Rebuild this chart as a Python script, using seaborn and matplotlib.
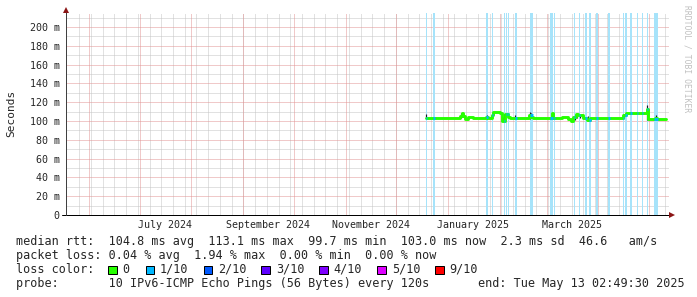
import numpy as np
import matplotlib
matplotlib.use("Agg")
import matplotlib.pyplot as plt
import seaborn as sns
from matplotlib.patches import Rectangle
from matplotlib.lines import Line2D

# ---- data: x in days since 2024-05-18 02:49:30 (360 day window) ----
med_day = [214.9, 233.4, 235.2, 236.2, 237.0, 238.2, 240.0, 243.0, 250.7, 251.9,
           254.1, 255.1, 259.1, 260.1, 261.0, 262.1, 264.1, 265.1, 276.4, 277.6,
           278.8, 290.0, 290.9, 295.9, 299.9, 301.3, 302.9, 304.5, 305.8, 307.9,
           308.8, 310.9, 312.8, 322.8, 324.8, 332.7, 334.3, 340.7, 346.7, 347.6,
           351.6, 352.7, 358.2]
med_ms = [103.5, 103.2, 105.5, 108.0, 105.8, 102.2, 104.0, 103.5, 104.2, 103.6,
          106.5, 109.8, 108.2, 100.2, 99.7, 107.2, 104.0, 103.5, 106.0, 104.2,
          103.5, 108.5, 103.5, 104.0, 102.6, 100.5, 104.0, 107.0, 106.4, 106.8,
          103.5, 101.5, 103.5, 103.0, 103.5, 106.0, 108.0, 108.3, 113.1, 102.1,
          103.0, 102.5, 102.5]

loss_day = [214.9, 219.1, 250.7, 254.1, 261.3, 262.5, 263.9, 268.1, 277.0, 289.1,
            291.3, 303.3, 306.4, 310.0, 312.5, 316.7, 323.4, 332.5, 333.9, 336.7,
            341.1, 343.9, 347.0, 350.9]
loss_len = [0.65, 1.2, 1.2, 0.65, 0.65, 0.65, 0.65, 1.2, 1.8, 1.5,
            0.65, 0.65, 0.65, 1.2, 0.65, 0.65, 1.2, 0.65, 0.9, 1.2,
            0.65, 0.65, 0.65, 2.5]

smoke_day = [215.0, 235.8, 251.3, 260.6, 261.5, 268.1, 277.0, 277.9, 289.9, 303.6,
             305.1, 306.9, 311.5, 317.0, 333.1, 346.9, 352.2]
smoke_lo = [103.0, 103.0, 102.0, 99.5, 100.0, 103.0, 102.0, 103.0, 103.0, 101.0,
            103.0, 103.0, 100.5, 102.0, 103.0, 101.0, 101.0]
smoke_hi = [107.0, 108.5, 106.0, 104.0, 107.0, 106.0, 110.0, 108.0, 109.0, 106.0,
            108.0, 107.5, 105.0, 104.5, 107.0, 117.0, 106.0]

month_day = [13.882, 43.882, 74.882, 105.882, 135.882, 166.882, 196.882, 227.882,
             258.882, 286.882, 317.882, 347.882]
label_day = [58.882, 120.882, 181.882, 242.882, 301.882]
label_txt = ["July 2024", "September 2024", "November 2024", "January 2025", "March 2025"]
first_week = 7.882

y_ticks = [0, 20, 40, 60, 80, 100, 120, 140, 160, 180, 200]
y_labels = ["0", "20 m", "40 m", "60 m", "80 m", "100 m", "120 m", "140 m",
            "160 m", "180 m", "200 m"]

line1 = "median rtt:  104.8 ms avg  113.1 ms max  99.7 ms min  103.0 ms now  2.3 ms sd  46.6   am/s"
line2 = "packet loss: 0.04 % avg  1.94 % max  0.00 % min  0.00 % now"
loss_names = ["0", "1/10", "2/10", "3/10", "4/10", "5/10", "9/10"]
loss_colors = ["#26ff00", "#00b8ff", "#0059ff", "#5e00ff", "#7e00ff", "#dd00ff", "#ff0000"]
probe_txt = "probe:       10 IPv6-ICMP Echo Pings (56 Bytes) every 120s"
end_txt = "end: Tue May 13 02:49:30 2025"

# ---- styling ----
sns.set_style("white")
plt.rcParams["font.family"] = ["DejaVu Sans Mono"]
FS = 8.5      # legend
FS_AX = 7.2   # axis tick labels
FS_UNIT = 8.0 # y unit label
W, H = 697, 297
fig = plt.figure(figsize=(W / 100, H / 100), dpi=100)
fig.patch.set_facecolor("white")
L, R, B, T = 66, 669, 215, 13
ax = fig.add_axes([L / W, 1 - B / H, (R - L) / W, (B - T) / H])
ax.set_facecolor("white")
XMAX = 360.0
YMAX = (B - T) / 0.94
ax.set_xlim(0, XMAX)
ax.set_ylim(0, YMAX)

px = 72 / 100  # one pixel in points
dot = (0, (1, 1))
gray = "#c4c4c4"
red = "#e29494"

# minor grid
for w in np.arange(first_week, XMAX, 7.0):
    ax.axvline(w, color=gray, lw=px, ls=dot, zorder=1)
for yv in range(10, int(YMAX) + 1, 20):
    ax.axhline(yv, color=gray, lw=px, ls=dot, zorder=1)
# major grid
for m in month_day:
    ax.axvline(m, color=red, lw=px, ls=dot, zorder=1.5)
for yv in y_ticks[1:]:
    ax.axhline(yv, color=red, lw=px, ls=dot, zorder=1.5)

# loss bars
ax.bar(loss_day, [YMAX] * len(loss_day), width=loss_len, align="edge",
       color="#a6e3fa", linewidth=0, zorder=2)

# smoke
ax.vlines(smoke_day, smoke_lo, smoke_hi, colors="#1a1a2a", lw=1.2 * px, zorder=3)

# median line
sns.lineplot(x=med_day, y=med_ms, ax=ax, color="#26ff00", lw=2.1,
             drawstyle="steps-post", estimator=None, sort=False, zorder=4)
md = np.array(med_day)
mm = np.array(med_ms)
for d, ln in zip(loss_day, loss_len):
    v = mm[np.searchsorted(md, d, side="right") - 1]
    ax.hlines(v, d, d + ln, colors="#00b8ff", lw=2.1, zorder=5)

# axes, ticks
for s in ax.spines.values():
    s.set_visible(False)
ax.set_yticks(y_ticks)
ax.set_yticklabels(y_labels, fontsize=FS_AX)
ax.set_xticks(label_day)
ax.set_xticklabels(label_txt, fontsize=FS_AX)
ax.tick_params(axis="y", length=0, pad=4.5)
ax.tick_params(axis="x", length=0, pad=3.5)
ax.set_xlabel("")
ax.set_ylabel("")

axw = R - L
axh = B - T
ax.add_line(Line2D([(62 - L) / axw, 1.0], [0, 0], transform=ax.transAxes,
                   color="black", lw=1.0 * px, clip_on=False, zorder=6))
ax.add_line(Line2D([0, 0], [0, (B - 10) / axh], transform=ax.transAxes,
                   color="#404040", lw=1.0 * px, clip_on=False, zorder=6))
ax.plot([(672 - L) / axw], [0], marker=">", ms=4.5, color="#8b1515",
        transform=ax.transAxes, clip_on=False, zorder=7, mew=0)
ax.plot([0], [(B - 10) / axh], marker="^", ms=4.5, color="#8b1515",
        transform=ax.transAxes, clip_on=False, zorder=7, mew=0)

# labels
fig.text(11 / W, 1 - 113 / H, "Seconds", rotation=90, ha="center", va="center", fontsize=FS_UNIT)
fig.text(687 / W, 1 - 59 / H, "RRDTOOL / TOBI OETIKER", rotation=270, ha="center",
         va="center", fontsize=5.8, color="#c0c0c0")

def ft(xp, yp, s, **kw):
    fig.text(xp / W, 1 - yp / H, s, ha="left", va="center", fontsize=FS, **kw)

ft(16, 241.5, line1)
ft(16, 255.5, line2)
ft(16, 269.5, "loss color:")
box_x = [108, 145.5, 203.5, 261.3, 319.3, 377.2, 435.1]
for i, (nm, col) in enumerate(zip(loss_names, loss_colors)):
    bx = box_x[i]
    fig.patches.append(Rectangle((bx / W, 1 - 274 / H), 8.5 / W, 8.5 / H,
                                 transform=fig.transFigure, facecolor=col,
                                 edgecolor="black", lw=px, figure=fig))
    ft(bx + 14.5, 269.5, nm)
ft(16, 283.5, probe_txt)
ft(478, 283.5, end_txt)

fig.savefig("out.png", dpi=100, facecolor="white")
